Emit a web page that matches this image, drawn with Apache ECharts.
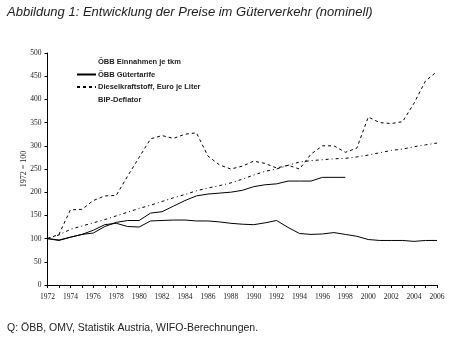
<!DOCTYPE html>
<html>
<head>
<meta charset="utf-8">
<script src="https://cdn.jsdelivr.net/npm/echarts@6/dist/echarts.min.js"></script>
<style>
  html, body { margin: 0; padding: 0; background: #fff; }
  #chart { width: 451px; height: 340px; }
</style>
</head>
<body>
<div id="chart"></div>
<script>
// Years 1972–2006 (index 1972 = 100)
const years = [];
for (let y = 1972; y <= 2006; y++) years.push(String(y));

// ÖBB Einnahmen je tkm
const einnahmen = [100, 96, 103, 109, 118, 130, 133, 126, 125, 138, 139, 140, 140, 138, 138, 136, 133, 131, 130, 134, 139, 124, 111, 109, 110, 113, 109, 105, 98, 96, 96, 96, 94, 96, 96];

// ÖBB Gütertarife (series ends 1998)
const tarife = [100, 97, 103, 109, 112, 126, 135, 139, 139, 155, 158, 170, 182, 192, 196, 198, 200, 204, 212, 216, 218, 224, 224, 224, 232, 232, 232, null, null, null, null, null, null, null, null];

// Dieselkraftstoff, Euro je Liter
const diesel = [100, 109, 162, 163, 182, 192, 193, 235, 275, 315, 322, 316, 325, 328, 278, 259, 250, 256, 267, 262, 252, 258, 250, 282, 300, 300, 286, 295, 362, 350, 348, 352, 392, 440, 460];

// BIP-Deflator
const deflator = [100, 108, 120, 127, 134, 141, 149, 157, 165, 172, 180, 188, 195, 203, 209, 214, 220, 228, 237, 245, 250, 258, 265, 268, 270, 272, 273, 276, 280, 285, 290, 293, 298, 302, 306];

const seriesNames = ['ÖBB Einnahmen je tkm', 'ÖBB Gütertarife', 'Dieselkraftstoff, Euro je Liter', 'BIP-Deflator'];

const chart = echarts.init(document.getElementById('chart'), null, { renderer: 'canvas' });

const smallFont = 'Liberation Serif';

chart.setOption({
  animation: false,
  backgroundColor: '#fff',
  title: [
    {
      text: 'Abbildung 1: Entwicklung der Preise im Güterverkehr (nominell)',
      left: 2, top: 1,
      textStyle: { fontFamily: 'Liberation Sans', fontStyle: 'italic', fontWeight: 'normal', fontSize: 13, color: '#222' }
    },
    {
      text: 'Q: ÖBB, OMV, Statistik Austria, WIFO-Berechnungen.',
      left: 2, top: 318,
      textStyle: { fontFamily: 'Liberation Sans', fontWeight: 'normal', fontSize: 10.5, color: '#222' }
    }
  ],
  legend: {
    orient: 'vertical',
    left: 71, top: 53,
    itemWidth: 19, itemHeight: 9, itemGap: 4.5,
    textStyle: { fontFamily: 'Liberation Sans', fontWeight: 'bold', fontSize: 7.5, color: '#222', padding: [0, 0, 0, -3] },
    data: [
      { name: seriesNames[0], lineStyle: { opacity: 0 } },
      { name: seriesNames[1] },
      { name: seriesNames[2] },
      { name: seriesNames[3], lineStyle: { opacity: 0 } }
    ]
  },
  grid: { left: 47.5, right: 14, top: 53, bottom: 55 },
  xAxis: {
    type: 'category',
    data: years,
    boundaryGap: false,
    axisLine: { lineStyle: { color: '#000', width: 1 } },
    axisTick: { show: true, interval: 0, length: 3, lineStyle: { color: '#000' } },
    axisLabel: { interval: 1, fontFamily: smallFont, fontSize: 7.5, color: '#222', margin: 8 },
    splitLine: { show: false }
  },
  yAxis: {
    type: 'value',
    min: 0, max: 500, interval: 50,
    name: '1972 = 100',
    nameLocation: 'middle',
    nameGap: 20,
    nameRotate: 90,
    nameMoveOverlap: false,
    nameTextStyle: { fontFamily: smallFont, fontSize: 8, color: '#222' },
    axisLine: { show: true, lineStyle: { color: '#000', width: 1 } },
    axisTick: { show: true, length: 3, lineStyle: { color: '#000' } },
    axisLabel: { fontFamily: smallFont, fontSize: 7.5, color: '#222', margin: 6 },
    splitLine: { show: false }
  },
  series: [
    {
      name: seriesNames[0], type: 'line', data: einnahmen, symbol: 'none', showSymbol: false,
      lineStyle: { color: '#000', width: 1, type: 'solid' }, itemStyle: { color: '#000', opacity: 0 }
    },
    {
      name: seriesNames[1], type: 'line', data: tarife, symbol: 'none', showSymbol: false,
      lineStyle: { color: '#000', width: 1, type: 'solid' }, itemStyle: { color: '#000', opacity: 0 }
    },
    {
      name: seriesNames[2], type: 'line', data: diesel, symbol: 'none', showSymbol: false,
      lineStyle: { color: '#000', width: 1, type: [3, 3] }, itemStyle: { color: '#000', opacity: 0 }
    },
    {
      name: seriesNames[3], type: 'line', data: deflator, symbol: 'none', showSymbol: false,
      lineStyle: { color: '#000', width: 1, type: [3, 3, 1, 3] }, itemStyle: { color: '#000', opacity: 0 }
    }
  ]
});
</script>
</body>
</html>
